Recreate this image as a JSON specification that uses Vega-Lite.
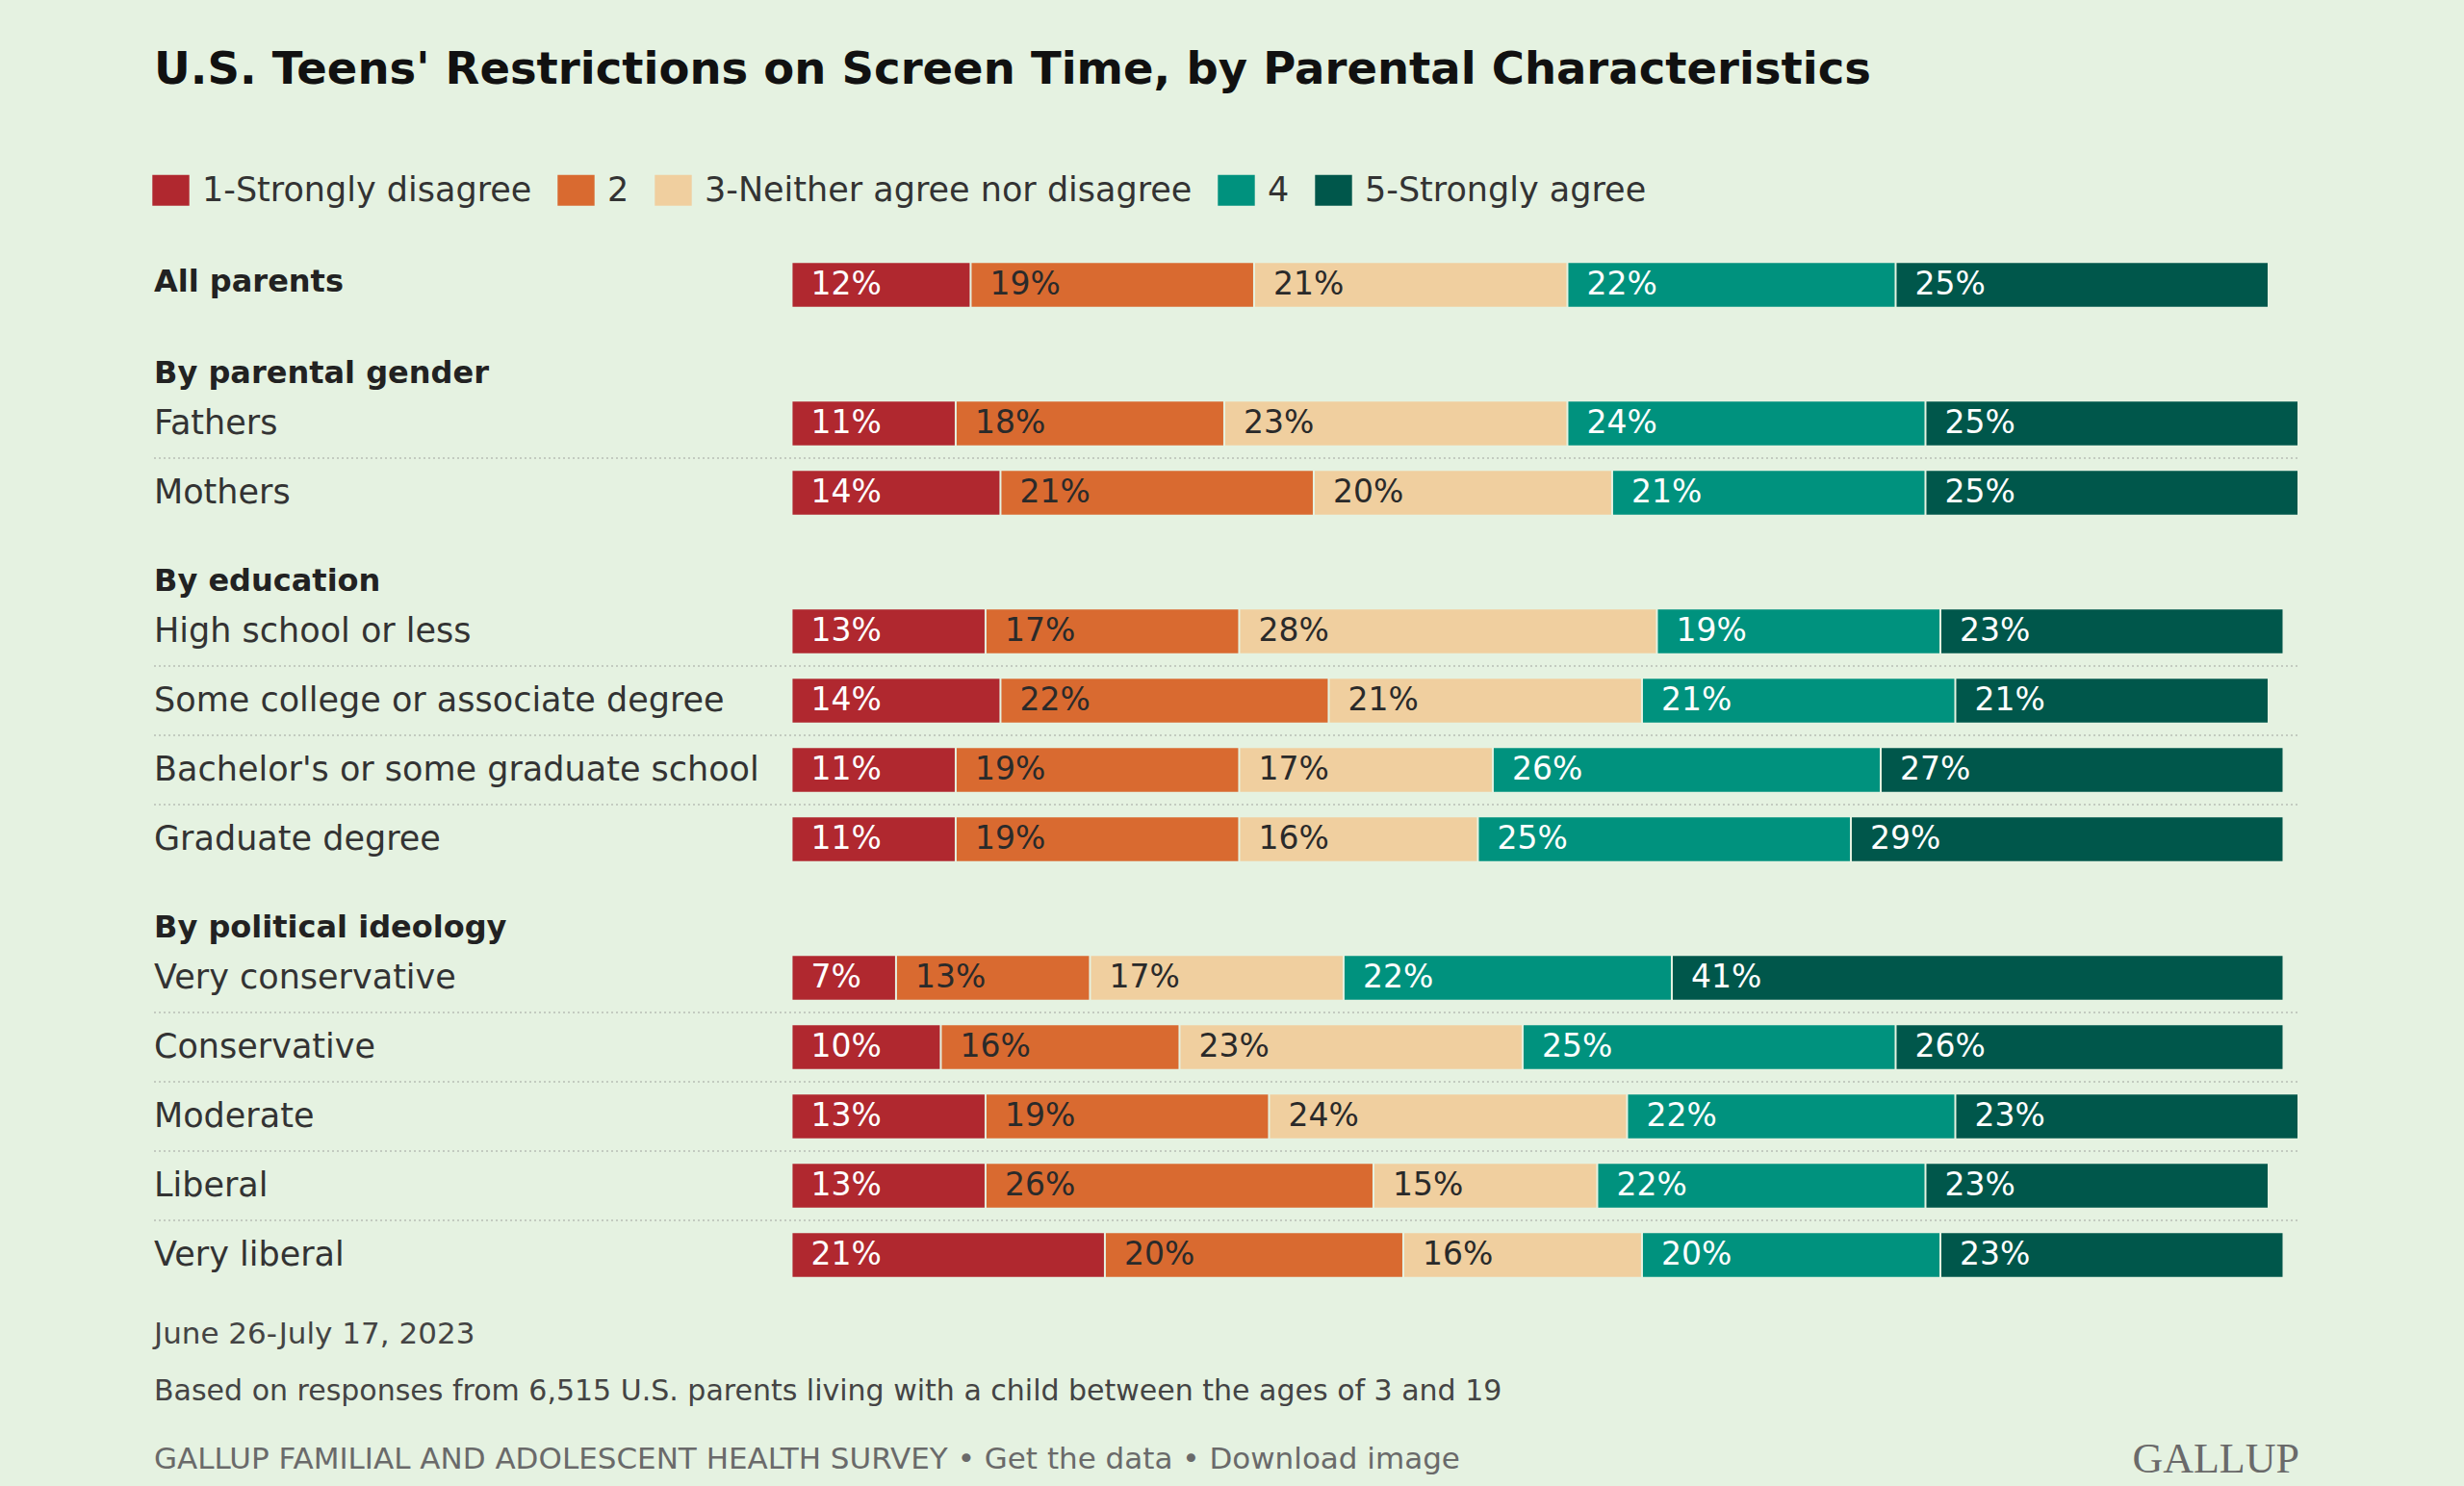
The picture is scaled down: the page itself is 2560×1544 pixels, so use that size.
{
  "$schema": "https://vega.github.io/schema/vega-lite/v6.json",
  "width": 2229,
  "height": 1284,
  "autosize": {"type": "none"},
  "padding": {"left": 160, "top": 260, "right": 171, "bottom": 0},
  "background": "#e5f2e1",
  "config": {"view": {"stroke": null}, "font": "DejaVu Sans"},
  "title": {
    "text": "U.S. Teens' Restrictions on Screen Time, by Parental Characteristics",
    "anchor": "start",
    "frame": "group",
    "font": "DejaVu Sans",
    "fontSize": 46.5,
    "fontWeight": "bold",
    "color": "#111111",
    "offset": 84
  },
  "datasets": {
    "bars": [
      {"row": "All parents", "level": "1-Strongly disagree", "order": 1, "pct": 12},
      {"row": "All parents", "level": "2", "order": 2, "pct": 19},
      {"row": "All parents", "level": "3-Neither agree nor disagree", "order": 3, "pct": 21},
      {"row": "All parents", "level": "4", "order": 4, "pct": 22},
      {"row": "All parents", "level": "5-Strongly agree", "order": 5, "pct": 25},
      {"row": "Fathers", "level": "1-Strongly disagree", "order": 1, "pct": 11},
      {"row": "Fathers", "level": "2", "order": 2, "pct": 18},
      {"row": "Fathers", "level": "3-Neither agree nor disagree", "order": 3, "pct": 23},
      {"row": "Fathers", "level": "4", "order": 4, "pct": 24},
      {"row": "Fathers", "level": "5-Strongly agree", "order": 5, "pct": 25},
      {"row": "Mothers", "level": "1-Strongly disagree", "order": 1, "pct": 14},
      {"row": "Mothers", "level": "2", "order": 2, "pct": 21},
      {"row": "Mothers", "level": "3-Neither agree nor disagree", "order": 3, "pct": 20},
      {"row": "Mothers", "level": "4", "order": 4, "pct": 21},
      {"row": "Mothers", "level": "5-Strongly agree", "order": 5, "pct": 25},
      {"row": "High school or less", "level": "1-Strongly disagree", "order": 1, "pct": 13},
      {"row": "High school or less", "level": "2", "order": 2, "pct": 17},
      {"row": "High school or less", "level": "3-Neither agree nor disagree", "order": 3, "pct": 28},
      {"row": "High school or less", "level": "4", "order": 4, "pct": 19},
      {"row": "High school or less", "level": "5-Strongly agree", "order": 5, "pct": 23},
      {"row": "Some college or associate degree", "level": "1-Strongly disagree", "order": 1, "pct": 14},
      {"row": "Some college or associate degree", "level": "2", "order": 2, "pct": 22},
      {"row": "Some college or associate degree", "level": "3-Neither agree nor disagree", "order": 3, "pct": 21},
      {"row": "Some college or associate degree", "level": "4", "order": 4, "pct": 21},
      {"row": "Some college or associate degree", "level": "5-Strongly agree", "order": 5, "pct": 21},
      {"row": "Bachelor's or some graduate school", "level": "1-Strongly disagree", "order": 1, "pct": 11},
      {"row": "Bachelor's or some graduate school", "level": "2", "order": 2, "pct": 19},
      {"row": "Bachelor's or some graduate school", "level": "3-Neither agree nor disagree", "order": 3, "pct": 17},
      {"row": "Bachelor's or some graduate school", "level": "4", "order": 4, "pct": 26},
      {"row": "Bachelor's or some graduate school", "level": "5-Strongly agree", "order": 5, "pct": 27},
      {"row": "Graduate degree", "level": "1-Strongly disagree", "order": 1, "pct": 11},
      {"row": "Graduate degree", "level": "2", "order": 2, "pct": 19},
      {"row": "Graduate degree", "level": "3-Neither agree nor disagree", "order": 3, "pct": 16},
      {"row": "Graduate degree", "level": "4", "order": 4, "pct": 25},
      {"row": "Graduate degree", "level": "5-Strongly agree", "order": 5, "pct": 29},
      {"row": "Very conservative", "level": "1-Strongly disagree", "order": 1, "pct": 7},
      {"row": "Very conservative", "level": "2", "order": 2, "pct": 13},
      {"row": "Very conservative", "level": "3-Neither agree nor disagree", "order": 3, "pct": 17},
      {"row": "Very conservative", "level": "4", "order": 4, "pct": 22},
      {"row": "Very conservative", "level": "5-Strongly agree", "order": 5, "pct": 41},
      {"row": "Conservative", "level": "1-Strongly disagree", "order": 1, "pct": 10},
      {"row": "Conservative", "level": "2", "order": 2, "pct": 16},
      {"row": "Conservative", "level": "3-Neither agree nor disagree", "order": 3, "pct": 23},
      {"row": "Conservative", "level": "4", "order": 4, "pct": 25},
      {"row": "Conservative", "level": "5-Strongly agree", "order": 5, "pct": 26},
      {"row": "Moderate", "level": "1-Strongly disagree", "order": 1, "pct": 13},
      {"row": "Moderate", "level": "2", "order": 2, "pct": 19},
      {"row": "Moderate", "level": "3-Neither agree nor disagree", "order": 3, "pct": 24},
      {"row": "Moderate", "level": "4", "order": 4, "pct": 22},
      {"row": "Moderate", "level": "5-Strongly agree", "order": 5, "pct": 23},
      {"row": "Liberal", "level": "1-Strongly disagree", "order": 1, "pct": 13},
      {"row": "Liberal", "level": "2", "order": 2, "pct": 26},
      {"row": "Liberal", "level": "3-Neither agree nor disagree", "order": 3, "pct": 15},
      {"row": "Liberal", "level": "4", "order": 4, "pct": 22},
      {"row": "Liberal", "level": "5-Strongly agree", "order": 5, "pct": 23},
      {"row": "Very liberal", "level": "1-Strongly disagree", "order": 1, "pct": 21},
      {"row": "Very liberal", "level": "2", "order": 2, "pct": 20},
      {"row": "Very liberal", "level": "3-Neither agree nor disagree", "order": 3, "pct": 16},
      {"row": "Very liberal", "level": "4", "order": 4, "pct": 20},
      {"row": "Very liberal", "level": "5-Strongly agree", "order": 5, "pct": 23}
    ],
    "labels": [
      {"row": "All parents", "label": "All parents", "kind": "main"},
      {"row": "By parental gender", "label": "By parental gender", "kind": "header"},
      {"row": "Fathers", "label": "Fathers", "kind": "item"},
      {"row": "Mothers", "label": "Mothers", "kind": "item"},
      {"row": "By education", "label": "By education", "kind": "header"},
      {"row": "High school or less", "label": "High school or less", "kind": "item"},
      {"row": "Some college or associate degree", "label": "Some college or associate degree", "kind": "item"},
      {"row": "Bachelor's or some graduate school", "label": "Bachelor's or some graduate school", "kind": "item"},
      {"row": "Graduate degree", "label": "Graduate degree", "kind": "item"},
      {"row": "By political ideology", "label": "By political ideology", "kind": "header"},
      {"row": "Very conservative", "label": "Very conservative", "kind": "item"},
      {"row": "Conservative", "label": "Conservative", "kind": "item"},
      {"row": "Moderate", "label": "Moderate", "kind": "item"},
      {"row": "Liberal", "label": "Liberal", "kind": "item"},
      {"row": "Very liberal", "label": "Very liberal", "kind": "item"},
      {"row": "June 26-July 17, 2023", "label": "June 26-July 17, 2023", "kind": "date"},
      {"row": "Based on responses from 6,515 U.S. parents living with a child between the ages of 3 and 19", "label": "Based on responses from 6,515 U.S. parents living with a child between the ages of 3 and 19", "kind": "note"},
      {"row": "GALLUP FAMILIAL AND ADOLESCENT HEALTH SURVEY • Get the data • Download image", "label": "GALLUP FAMILIAL AND ADOLESCENT HEALTH SURVEY • Get the data • Download image", "kind": "source"},
      {"row": "GALLUP FAMILIAL AND ADOLESCENT HEALTH SURVEY • Get the data • Download image", "label": "GALLUP", "kind": "logo"}
    ],
    "seps": [
      {"row": "Mothers"},
      {"row": "Some college or associate degree"},
      {"row": "Bachelor's or some graduate school"},
      {"row": "Graduate degree"},
      {"row": "Conservative"},
      {"row": "Moderate"},
      {"row": "Liberal"},
      {"row": "Very liberal"}
    ]
  },
  "encoding": {
    "y": {
      "field": "row",
      "type": "nominal",
      "axis": null,
      "scale": {
        "domain": ["All parents", "By parental gender", "Fathers", "Mothers", "By education", "High school or less", "Some college or associate degree", "Bachelor's or some graduate school", "Graduate degree", "By political ideology", "Very conservative", "Conservative", "Moderate", "Liberal", "Very liberal", "June 26-July 17, 2023", "Based on responses from 6,515 U.S. parents living with a child between the ages of 3 and 19", "GALLUP FAMILIAL AND ADOLESCENT HEALTH SURVEY • Get the data • Download image"],
        "range": [0, 1296],
        "paddingInner": 0,
        "paddingOuter": 0
      }
    }
  },
  "layer": [
    {
      "data": {"name": "bars"},
      "transform": [
        {"stack": "pct", "groupby": ["row"], "sort": [{"field": "order", "order": "ascending"}], "as": ["x0", "x1"]},
        {"calculate": "datum.pct + '%'", "as": "lab"}
      ],
      "layer": [
        {
          "mark": {"type": "bar", "height": {"band": 0.632}, "x2Offset": -2},
          "encoding": {
            "x": {"field": "x0", "type": "quantitative", "axis": null, "scale": {"domain": [-42.8, 101.0], "nice": false, "zero": false}},
            "x2": {"field": "x1"},
            "color": {
              "field": "level",
              "type": "nominal",
              "scale": {
                "domain": ["1-Strongly disagree", "2", "3-Neither agree nor disagree", "4", "5-Strongly agree"],
                "range": ["#b0282f", "#d96a30", "#f0cf9f", "#00927e", "#00574b"]
              },
              "legend": {
                "orient": "none",
                "legendX": 0,
                "legendY": -80,
                "direction": "horizontal",
                "title": null,
                "symbolType": "M-1.2,-1H1.2V1H-1.2Z",
                "symbolSize": 1024,
                "symbolStrokeWidth": 0,
                "symbolOpacity": 1,
                "labelFont": "DejaVu Sans",
                "labelFontSize": 35,
                "labelColor": "#333333",
                "labelOffset": 15,
                "labelLimit": 0,
                "columnPadding": 26,
                "padding": 0
              }
            }
          }
        },
        {
          "mark": {"type": "text", "align": "left", "baseline": "middle", "dx": 19, "font": "DejaVu Sans", "fontSize": 33},
          "encoding": {
            "x": {"field": "x0", "type": "quantitative"},
            "text": {"field": "lab"},
            "color": {"condition": {"test": "datum.order == 2 || datum.order == 3", "value": "#2a2a2a"}, "value": "#ffffff"}
          }
        }
      ]
    },
    {
      "data": {"name": "seps"},
      "mark": {"type": "rule", "strokeDash": [2, 3], "color": "#c3cbc0", "strokeWidth": 2},
      "encoding": {
        "y": {"field": "row", "type": "nominal", "bandPosition": 0},
        "x": {"datum": -42.8, "type": "quantitative"},
        "x2": {"datum": 101.0}
      }
    },
    {
      "data": {"name": "labels"},
      "transform": [{"filter": "datum.kind == 'item'"}],
      "mark": {"type": "text", "align": "left", "baseline": "middle", "font": "DejaVu Sans", "fontSize": 35, "color": "#333333"},
      "encoding": {"x": {"datum": -42.8, "type": "quantitative"}, "text": {"field": "label"}}
    },
    {
      "data": {"name": "labels"},
      "transform": [{"filter": "datum.kind == 'main'"}],
      "mark": {"type": "text", "align": "left", "baseline": "middle", "dy": -3, "font": "DejaVu Sans", "fontSize": 32, "fontWeight": "bold", "color": "#222222"},
      "encoding": {"x": {"datum": -42.8, "type": "quantitative"}, "text": {"field": "label"}}
    },
    {
      "data": {"name": "labels"},
      "transform": [{"filter": "datum.kind == 'header'"}],
      "mark": {"type": "text", "align": "left", "baseline": "middle", "dy": 20, "font": "DejaVu Sans", "fontSize": 32, "fontWeight": "bold", "color": "#222222"},
      "encoding": {"x": {"datum": -42.8, "type": "quantitative"}, "text": {"field": "label"}}
    },
    {
      "data": {"name": "labels"},
      "transform": [{"filter": "datum.kind == 'date'"}],
      "mark": {"type": "text", "align": "left", "baseline": "middle", "dy": 11, "font": "DejaVu Sans", "fontSize": 31, "color": "#444444"},
      "encoding": {"x": {"datum": -42.8, "type": "quantitative"}, "text": {"field": "label"}}
    },
    {
      "data": {"name": "labels"},
      "transform": [{"filter": "datum.kind == 'note'"}],
      "mark": {"type": "text", "align": "left", "baseline": "middle", "dy": -2, "font": "DejaVu Sans", "fontSize": 30, "color": "#444444"},
      "encoding": {"x": {"datum": -42.8, "type": "quantitative"}, "text": {"field": "label"}}
    },
    {
      "data": {"name": "labels"},
      "transform": [{"filter": "datum.kind == 'source'"}],
      "mark": {"type": "text", "align": "left", "baseline": "middle", "dy": -3, "font": "DejaVu Sans", "fontSize": 31, "color": "#6a6a6a"},
      "encoding": {"x": {"datum": -42.8, "type": "quantitative"}, "text": {"field": "label"}}
    },
    {
      "data": {"name": "labels"},
      "transform": [{"filter": "datum.kind == 'logo'"}],
      "mark": {"type": "text", "align": "right", "baseline": "middle", "dy": -3, "font": "Liberation Serif", "fontSize": 44, "color": "#6a6a6a"},
      "encoding": {"x": {"datum": 101.0, "type": "quantitative"}, "text": {"field": "label"}}
    }
  ]
}
